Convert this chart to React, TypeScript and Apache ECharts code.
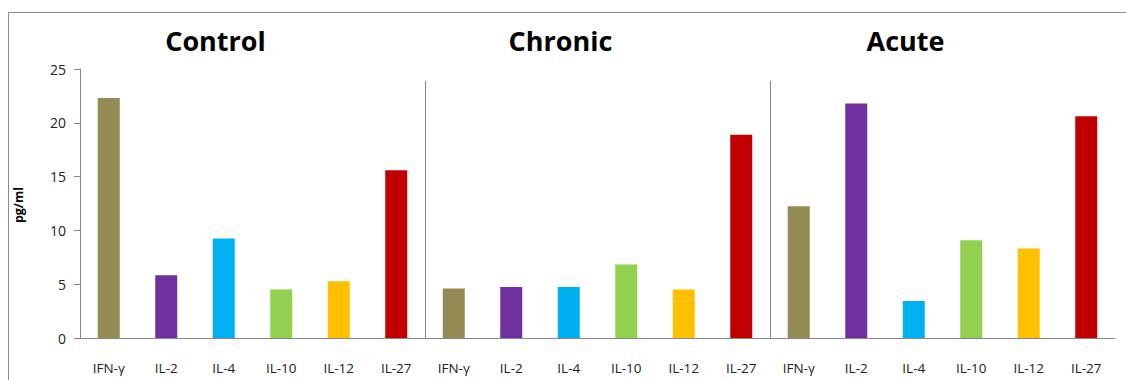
import React, { useEffect, useRef } from "react";
import * as echarts from "echarts";

const cytokines = ["IFN-γ", "IL-2", "IL-4", "IL-10", "IL-12", "IL-27"];
const groups = ["Control", "Chronic", "Acute"];
const controlValues = [22.3, 5.83, 9.24, 4.5, 5.27, 15.58];
const chronicValues = [4.59, 4.74, 4.74, 6.82, 4.5, 18.9];
const acuteValues = [12.24, 21.8, 3.44, 9.08, 8.31, 20.6];
const cytokineColors = ["#948A54", "#7030A0", "#00B0F0", "#92D050", "#FFC000", "#C00000"];
const yTicks = [0, 5, 10, 15, 20, 25];

export default function App() {
  const ref = useRef<HTMLDivElement>(null);
  useEffect(() => {
    if (!ref.current) return;
    const chart = echarts.init(ref.current, null, { renderer: "svg" });
    const allValues = [controlValues, chronicValues, acuteValues];
    const categories: string[] = [];
    const data: any[] = [];
    allValues.forEach((vals) => {
      vals.forEach((v, i) => {
        categories.push(cytokines[i]);
        data.push({ value: v, itemStyle: { color: cytokineColors[i] } });
      });
    });
    const font = "'Open Sans', 'Noto Sans', sans-serif";
    chart.setOption({
      animation: false,
      backgroundColor: "#ffffff",
      grid: { left: 80, right: 11, top: 69, bottom: 42, containLabel: false },
      xAxis: {
        type: "category",
        data: categories,
        axisLine: { show: true, lineStyle: { color: "#868686", width: 1 } },
        axisTick: { show: false },
        axisLabel: { interval: 0, margin: 23, fontSize: 13.5, color: "#222", fontFamily: font },
        splitLine: { show: false },
      },
      yAxis: {
        type: "value",
        min: yTicks[0],
        max: yTicks[yTicks.length - 1],
        interval: 5,
        axisLine: { show: true, lineStyle: { color: "#868686", width: 1 } },
        axisTick: { show: true, inside: false, length: 6, lineStyle: { color: "#868686" } },
        axisLabel: { fontSize: 14, color: "#222", margin: 14, fontFamily: font },
        splitLine: { show: false },
      },
      series: [
        {
          type: "bar",
          data,
          barWidth: 22,
        },
      ],
    });

    const xAt = (i: number) => chart.convertToPixel({ xAxisIndex: 0 }, i) as number;
    const yAt = (v: number) => chart.convertToPixel({ yAxisIndex: 0 }, v) as number;
    const sepTop = yAt(23.9);
    const sepBottom = yAt(0);
    const graphics: any[] = [];
    [6, 12].forEach((b) => {
      const x = Math.round((xAt(b - 1) + xAt(b)) / 2) + 0.5;
      graphics.push({
        type: "line",
        shape: { x1: x, y1: sepTop, x2: x, y2: sepBottom },
        style: { stroke: "#868686", lineWidth: 1 },
        silent: true,
      });
    });
    groups.forEach((g, gi) => {
      const center = (xAt(gi * 6) + xAt(gi * 6 + 5)) / 2 - 37;
      graphics.push({
        type: "text",
        x: center,
        y: 40,
        style: {
          text: g,
          fontSize: 27,
          fontWeight: "bold",
          fontFamily: font,
          fill: "#000",
          align: "center",
          verticalAlign: "middle",
        },
      });
    });
    graphics.push({
      type: "text",
      x: 18,
      y: 205,
      rotation: Math.PI / 2,
      style: {
        text: "pg/ml",
        fontSize: 12.5,
        fontWeight: "bold",
        fontFamily: font,
        fill: "#000",
        align: "center",
        verticalAlign: "middle",
      },
    });
    graphics.push({
      type: "line",
      shape: { x1: 8.5, y1: 12.5, x2: 1126, y2: 12.5 },
      style: { stroke: "#8a8a8a", lineWidth: 1 },
    });
    graphics.push({
      type: "line",
      shape: { x1: 8.5, y1: 12.5, x2: 8.5, y2: 380 },
      style: { stroke: "#8a8a8a", lineWidth: 1 },
    });
    chart.setOption({ graphic: graphics });
    return () => chart.dispose();
  }, []);
  return (
    <div
      ref={ref}
      style={{ position: "fixed", left: 0, top: 0, width: 1126, height: 380, background: "#fff" }}
    />
  );
}
